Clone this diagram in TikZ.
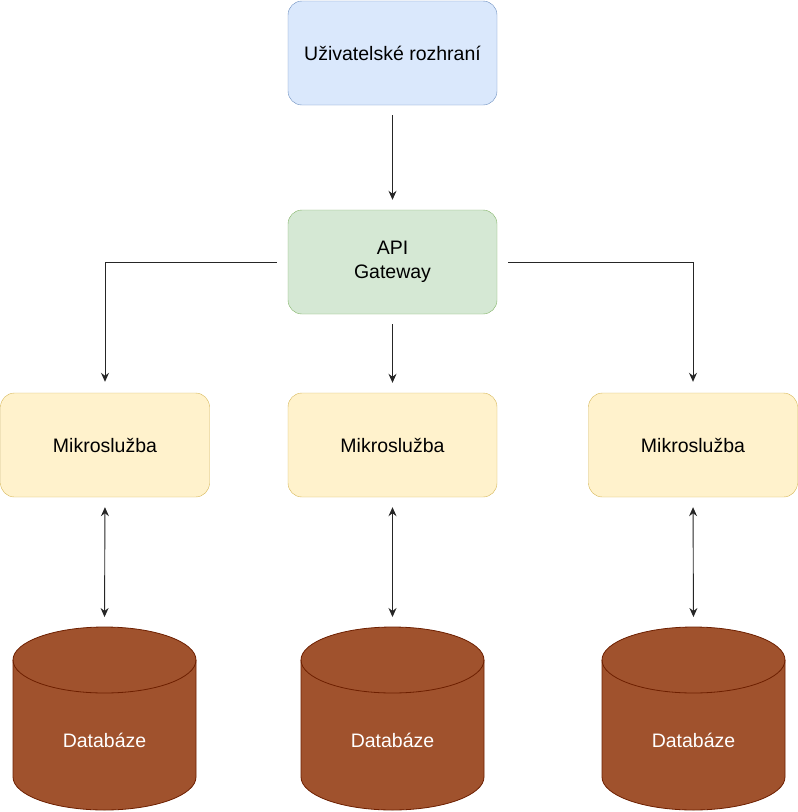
\documentclass[tikz,border=0pt]{standalone}
\usepackage{fontspec}
\setmainfont{Liberation Sans}
\usetikzlibrary{arrows.meta}

\definecolor{uifill}{HTML}{DAE8FC}
\definecolor{uiline}{HTML}{6C8EBF}
\definecolor{gwfill}{HTML}{D5E8D4}
\definecolor{gwline}{HTML}{82B366}
\definecolor{msfill}{HTML}{FFF2CC}
\definecolor{msline}{HTML}{D6B656}
\definecolor{dbfill}{HTML}{A0522D}
\definecolor{dbline}{HTML}{6D1F00}

\begin{document}
\begin{tikzpicture}[x=1pt, y=1pt,
    box/.style={draw, rounded corners=14pt, minimum width=209pt, minimum height=104pt,
      align=center, font=\fontsize{19.5}{24}\selectfont},
    uibox/.style={box, fill=uifill, draw=uiline},
    gwbox/.style={box, fill=gwfill, draw=gwline},
    msbox/.style={box, fill=msfill, draw=msline},
    conn/.style={draw=black!85, line width=0.9pt, -{Stealth[length=9pt,width=8pt,inset=3pt]},
      shorten <=10pt, shorten >=10pt},
    dconn/.style={conn, {Stealth[length=9pt,width=8pt,inset=3pt]}-{Stealth[length=9pt,width=8pt,inset=3pt]}},
    dbtext/.style={text=white, font=\fontsize{19.5}{24}\selectfont}]
    \useasboundingbox (0, 0) rectangle (798, -812);

    \node[uibox] (ui) at (392.5, -53) {Uživatelské rozhraní};
    \node[gwbox] (gw) at (392.5, -262) {API\\Gateway};

    \node[msbox] (ms1) at (105, -445) {Mikroslužba};
    \node[msbox] (ms2) at (392.5, -445) {Mikroslužba};
    \node[msbox] (ms3) at (693, -445) {Mikroslužba};

    % databases
    \foreach \i/\cx in {1/104.5, 2/392.5, 3/693.5} {
      \draw[fill=dbfill, draw=dbline, line width=0.8pt]
      (\cx - 91.5, -660) -- (\cx - 91.5, -777)
      arc[start angle=180, end angle=360, x radius=91.5, y radius=33] --
      (\cx + 91.5, -660)
      arc[start angle=0, end angle=180, x radius=91.5, y radius=33] -- cycle;
      \draw[draw=dbline, line width=0.8pt] (\cx - 91.5, -660)
      arc[start angle=180, end angle=360, x radius=91.5, y radius=33];
      \coordinate (dbtop\i) at (\cx, -627);
      \node[dbtext] (db\i) at (\cx, -740) {Databáze};
    }

    \draw[conn] (ui) -- (gw);
    \draw[conn, shorten <=11pt, shorten >=11pt] (gw.west) -| (ms1.north);
    \draw[conn, shorten <=11pt, shorten >=11pt] (gw.east) -| (ms3.north);
    \draw[conn] (gw) -- (ms2);

    \draw[dconn] (ms1.south) -- (dbtop1);
    \draw[dconn] (ms2.south) -- (dbtop2);
    \draw[dconn] (ms3.south) -- (dbtop3);
  \end{tikzpicture}
\end{document}
